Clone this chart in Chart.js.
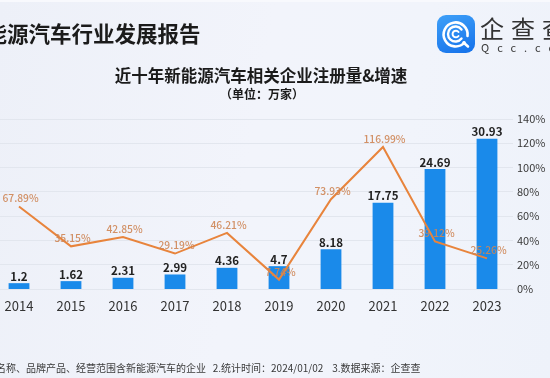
<!DOCTYPE html>
<html><head><meta charset="utf-8">
<script src="https://cdn.jsdelivr.net/npm/chart.js@4.4.1/dist/chart.umd.min.js"></script>
<style>
html,body{margin:0;padding:0;width:550px;height:378px;overflow:hidden;}
body{position:relative;font-family:"Noto Sans CJK SC","Noto Sans",sans-serif;
background:linear-gradient(100deg,#edf0f8 0%,#f2f4fb 45%,#f1f4fb 70%,#eef2fa 100%);}
#wrap{position:absolute;left:-7px;top:0;width:557px;height:378px;z-index:1;}
.t{position:absolute;white-space:nowrap;line-height:1;z-index:2;}
#topband{position:absolute;left:0;top:0;width:550px;height:2px;background:#f8f9fd;}
#icon{position:absolute;left:437px;top:15px;width:38px;height:38px;border-radius:9px;
background:linear-gradient(160deg,#3ea0f8,#1571ea);z-index:2;}
</style></head>
<body>
<div id="topband"></div>
<div class="t" style="left:-36px;top:22px;font-size:21.5px;font-weight:700;color:#1b1b1b;">新能源汽车行业发展报告</div>
<div id="icon"><svg width="38" height="38" viewBox="0 0 38 38">
<path d="M27.5 27.5 A12 12 0 1 1 30.5 21" fill="none" stroke="#fff" stroke-width="2.6" stroke-linecap="round"/>
<path d="M26.5 27.5 L31 31.5" stroke="#fff" stroke-width="2.6" stroke-linecap="round"/>
<path d="M24.5 14.5 A7.5 7.5 0 1 0 24.5 23.5" fill="none" stroke="#fff" stroke-width="2.4" stroke-linecap="round"/>
<path d="M21.5 17 A3.3 3.3 0 1 0 21.5 21" fill="none" stroke="#fff" stroke-width="2" stroke-linecap="round"/>
</svg></div>
<div class="t" style="left:480px;top:16px;font-size:24px;letter-spacing:7px;color:#333;">企查查</div>
<div class="t" style="left:481px;top:42px;font-size:11px;letter-spacing:8px;color:#363636;">Qcc.com</div>
<div class="t" style="left:0;width:522px;text-align:center;top:67px;font-size:16.5px;font-weight:700;color:#1b1b1b;">近十年新能源汽车相关企业注册量&amp;增速</div>
<div class="t" style="left:0;width:524px;text-align:center;top:88px;font-size:12px;font-weight:700;color:#1b1b1b;">（单位：万家）</div>
<div class="t" style="left:-4px;top:363px;font-size:10px;color:#3a3a3a;">名称、品牌产品、经营范围含新能源汽车的企业&nbsp;&nbsp;&nbsp;2.统计时间：2024/01/02&nbsp;&nbsp;&nbsp;&nbsp;3.数据来源：企查查</div>
<div id="wrap"><canvas id="c" width="557" height="378"></canvas></div>
<script>
const years = ['2014','2015','2016','2017','2018','2019','2020','2021','2022','2023'];
const registrations = [1.2, 1.62, 2.31, 2.99, 4.36, 4.7, 8.18, 17.75, 24.69, 30.93];
const growthRates = [67.89, 35.15, 42.85, 29.19, 46.21, 7.74, 73.93, 116.99, 39.12, 25.26];
const growthLabels = ['67.89%','35.15%','42.85%','29.19%','46.21%','7.74%','73.93%','116.99%','39.12%','25.26%'];
const rightTicks = [0, 20, 40, 60, 80, 100, 120, 140];

const FONT = '"Noto Sans CJK SC","Noto Sans",sans-serif';

const labelPlugin = {
  id: 'valueLabels',
  afterDatasetsDraw(chart) {
    const ctx = chart.ctx;
    ctx.save();
    const barMeta = chart.getDatasetMeta(1);
    ctx.textAlign = 'center';
    ctx.textBaseline = 'bottom';
    ctx.font = '600 11.5px ' + FONT;
    ctx.fillStyle = '#222';
    barMeta.data.forEach((el, i) => {
      ctx.fillText(String(registrations[i]), el.x, el.y - 1);
    });
    const lineMeta = chart.getDatasetMeta(0);
    ctx.textBaseline = 'middle';
    ctx.font = '500 10.3px ' + FONT;
    ctx.fillStyle = 'rgba(206,133,84,0.9)';
    lineMeta.data.forEach((el, i) => {
      ctx.fillText(growthLabels[i], el.x + 1.5, el.y - 8);
    });
    ctx.restore();
  }
};

new Chart(document.getElementById('c'), {
  data: {
    labels: years,
    datasets: [
      { type: 'line', data: growthRates, yAxisID: 'y1', borderColor: '#e8843c', borderWidth: 2,
        pointRadius: 0, tension: 0, order: 0, clip: false },
      { type: 'bar', data: registrations, yAxisID: 'y', backgroundColor: '#1a8aea',
        categoryPercentage: 0.8, barPercentage: 0.5, order: 1 }
    ]
  },
  options: {
    responsive: false,
    animation: false,
    devicePixelRatio: 1,
    layout: { padding: { left: 0, right: 0, top: 119, bottom: 55.4 } },
    plugins: { legend: { display: false }, tooltip: { enabled: false }, title: { display: false } },
    scales: {
      x: {
        grid: { display: false, drawTicks: false },
        border: { display: false },
        ticks: { padding: 9, color: '#333', font: { family: FONT, size: 13 } }
      },
      y: {
        display: false, position: 'left', min: 0, max: 35,
        grid: { display: false }
      },
      y1: {
        position: 'right', min: 0, max: 140,
        afterBuildTicks(scale) { scale.ticks = rightTicks.map(v => ({ value: v })); },
        afterFit(scale) { scale.width = 37; },
        grid: { color: '#e2e6ee', lineWidth: 1, drawTicks: false },
        border: { display: false },
        ticks: { padding: 4, color: '#3a3a3a', font: { family: FONT, size: 11 },
          callback: v => v + '%' }
      }
    }
  },
  plugins: [labelPlugin]
});
</script>
</body></html>
